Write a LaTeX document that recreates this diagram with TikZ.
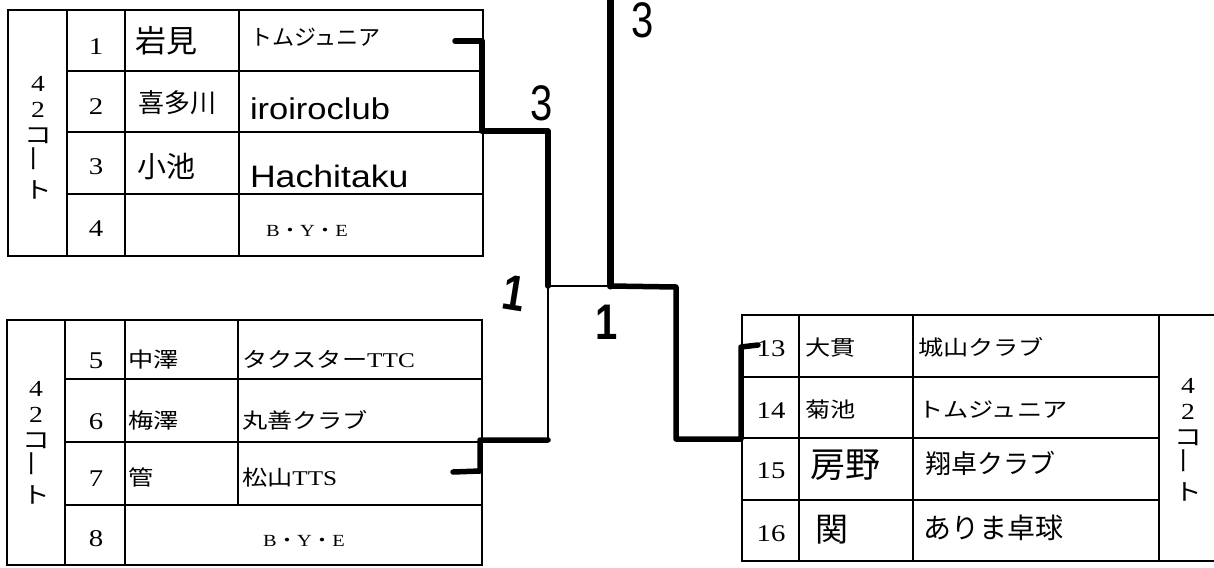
\documentclass[tikz,border=0pt]{standalone}
\usepackage{fontspec}
\usepackage{graphicx}
\setmainfont{Liberation Serif}[FakeStretch=1.2]
\newfontfamily\jp{Noto Sans CJK JP}[FakeStretch=1.2]
\newfontfamily\jph{Noto Sans CJK JP}
\newfontfamily\hand{Liberation Sans}[FakeStretch=1.15]
\newfontfamily\hnum{Liberation Sans}[FakeStretch=0.8]
\newcommand\fsz[1]{\fontsize{#1}{#1}\selectfont}
\tikzset{
  tbl/.style={line width=1.6pt},
  brk/.style={line width=5.5pt, line cap=round, line join=round},
  thinbrk/.style={line width=1.2pt},
  txt/.style={inner sep=0pt, outer sep=0pt},
  num/.style={txt, anchor=base, font=\fsz{24}},
  pj/.style={txt, anchor=base west, font=\jp\fsz{21}},
  hw/.style={txt, anchor=west},
  bye/.style={txt, anchor=base, font=\fsz{17}},
  court/.style={txt, align=center, font=\fontsize{23}{26}\selectfont},
  score/.style={txt, font=\hnum\fsz{50}},
  scoreone/.style={txt, font=\hnum\bfseries\fsz{50}}
}
\begin{document}
\begin{tikzpicture}[x=1pt,y=-1pt]
\useasboundingbox (0,0) rectangle (1214,567);
\clip (0,0) rectangle (1214,567);
\fill[white] (0,0) rectangle (1214,567);

% ---------- table 1 (rows 1-4) ----------
\draw[tbl] (8,10) rectangle (483,256);
\draw[tbl] (67,10) -- (67,256) (125,10) -- (125,256) (239,10) -- (239,256);
\draw[tbl] (67,71) -- (483,71) (67,132) -- (483,132) (67,194) -- (483,194);

% ---------- table 2 (rows 5-8) ----------
\draw[tbl] (7,320) rectangle (482,565);
\draw[tbl] (65,320) -- (65,565) (125,320) -- (125,565) (238,320) -- (238,505);
\draw[tbl] (65,379) -- (482,379) (65,442) -- (482,442) (65,505) -- (482,505);

% ---------- table 3 (rows 13-16) ----------
\draw[tbl] (1230,315) -- (742,315) -- (742,561) -- (1230,561);
\draw[tbl] (799,315) -- (799,561) (913,315) -- (913,561) (1159,315) -- (1159,561);
\draw[tbl] (742,377) -- (1159,377) (742,438) -- (1159,438) (742,500) -- (1159,500);

% ---------- court labels ----------
\node[court] (c1) at (38,138) {4\\2\\{\jp コ}\\\rotatebox{90}{\jp ー}\\{\jp ト}};
\node[court] (c2) at (36,443) {4\\2\\{\jp コ}\\\rotatebox{90}{\jp ー}\\{\jp ト}};
\node[court] (c3) at (1188,440) {4\\2\\{\jp コ}\\\rotatebox{90}{\jp ー}\\{\jp ト}};

% ---------- table 1 texts ----------
\node[num] (n1) at (96,55) {1};
\node[num] (n2) at (96,114) {2};
\node[num] (n3) at (96,174) {3};
\node[num] (n4) at (96,236) {4};
\node[hw, font=\jph\fsz{31}] (nm1) at (135,41) {岩見};
\node[hw, font=\jph\fsz{26}] (nm2) at (138,103) {喜多川};
\node[hw, font=\jph\fsz{29}] (nm3) at (137,167) {小池};
\node[hw, font=\jph\fsz{22}] (tm1) at (250,37) {トムジュニア};
\node[txt, anchor=base west, font=\hand\fsz{30}] (tm2) at (250,120) {iroiroclub};
\node[txt, anchor=base west, font=\hand\fsz{31}] (tm3) at (250,187) {Hachitaku};
\node[bye] (bye1) at (307,236) {B{\jp ・}Y{\jp ・}E};

% ---------- table 2 texts ----------
\node[num] (n5) at (96,368) {5};
\node[num] (n6) at (96,429) {6};
\node[num] (n7) at (96,486) {7};
\node[num] (n8) at (96,546) {8};
\node[pj] (nm5) at (128,367) {中澤};
\node[pj] (nm6) at (128,428) {梅澤};
\node[pj] (nm7) at (128,485) {管};
\node[pj] (tm5) at (242,367) {タクスター{\rmfamily TTC}};
\node[pj] (tm6) at (242,428) {丸善クラブ};
\node[pj] (tm7) at (242,485) {松山{\rmfamily TTS}};
\node[bye] (bye2) at (304,546) {B{\jp ・}Y{\jp ・}E};

% ---------- table 3 texts ----------
\node[num] (n13) at (771,356) {13};
\node[num] (n14) at (771,418) {14};
\node[num] (n15) at (771,478) {15};
\node[num] (n16) at (771,541) {16};
\node[pj] (nm13) at (805,355) {大貫};
\node[pj] (nm14) at (805,417) {菊池};
\node[pj] (tm13) at (918,355) {城山クラブ};
\node[pj] (tm14) at (918,417) {トムジュニア};
\node[hw, font=\jph\fsz{35}] (nm15) at (810,465) {房野};
\node[hw, font=\jph\fsz{26}] (tm15) at (925,463) {翔卓クラブ};
\node[hw, font=\jph\fsz{33}] (nm16) at (815,530) {関};
\node[hw, font=\jph\fsz{28}] (tm16) at (923,528) {ありま卓球};

% ---------- bracket coordinates ----------
\coordinate (t1e) at (455,41);
\coordinate (t1c) at (482,41);
\coordinate (t12) at (482,131);
\coordinate (q1) at (548,131);
\coordinate (sf1) at (548,286);
\coordinate (fin) at (610,286);
\coordinate (q2) at (548,440);
\coordinate (t2c) at (480,440);
\coordinate (t2r) at (480,471);
\coordinate (t2e) at (453,472);
\coordinate (top) at (610,-10);
\coordinate (r1) at (676,287);
\coordinate (r2) at (676,439);
\coordinate (t3c) at (741,439);
\coordinate (t3u) at (741,347);
\coordinate (t3e) at (758,345);

% ---------- bracket lines ----------
\draw[brk] (t1e) -- (t1c) -- (t12) -- (q1) -- (sf1);
\draw[thinbrk] (sf1) -- (fin);
\draw[thinbrk] (sf1) -- (q2);
\draw[brk] (q2) -- (t2c) -- (t2r) -- (t2e);
\draw[brk, line width=7pt] (top) -- (fin);
\draw[brk] (fin) -- (r1) -- (r2) -- (t3c) -- (t3u) -- (t3e);

% ---------- scores ----------
\node[score] (s3a) at (542,103) {3};
\node[score] (s3b) at (643,20) {3};
\node[scoreone, rotate=-9] (s1a) at (514,293) {1};
\node[scoreone] (s1b) at (607,322) {1};
\end{tikzpicture}
\end{document}
